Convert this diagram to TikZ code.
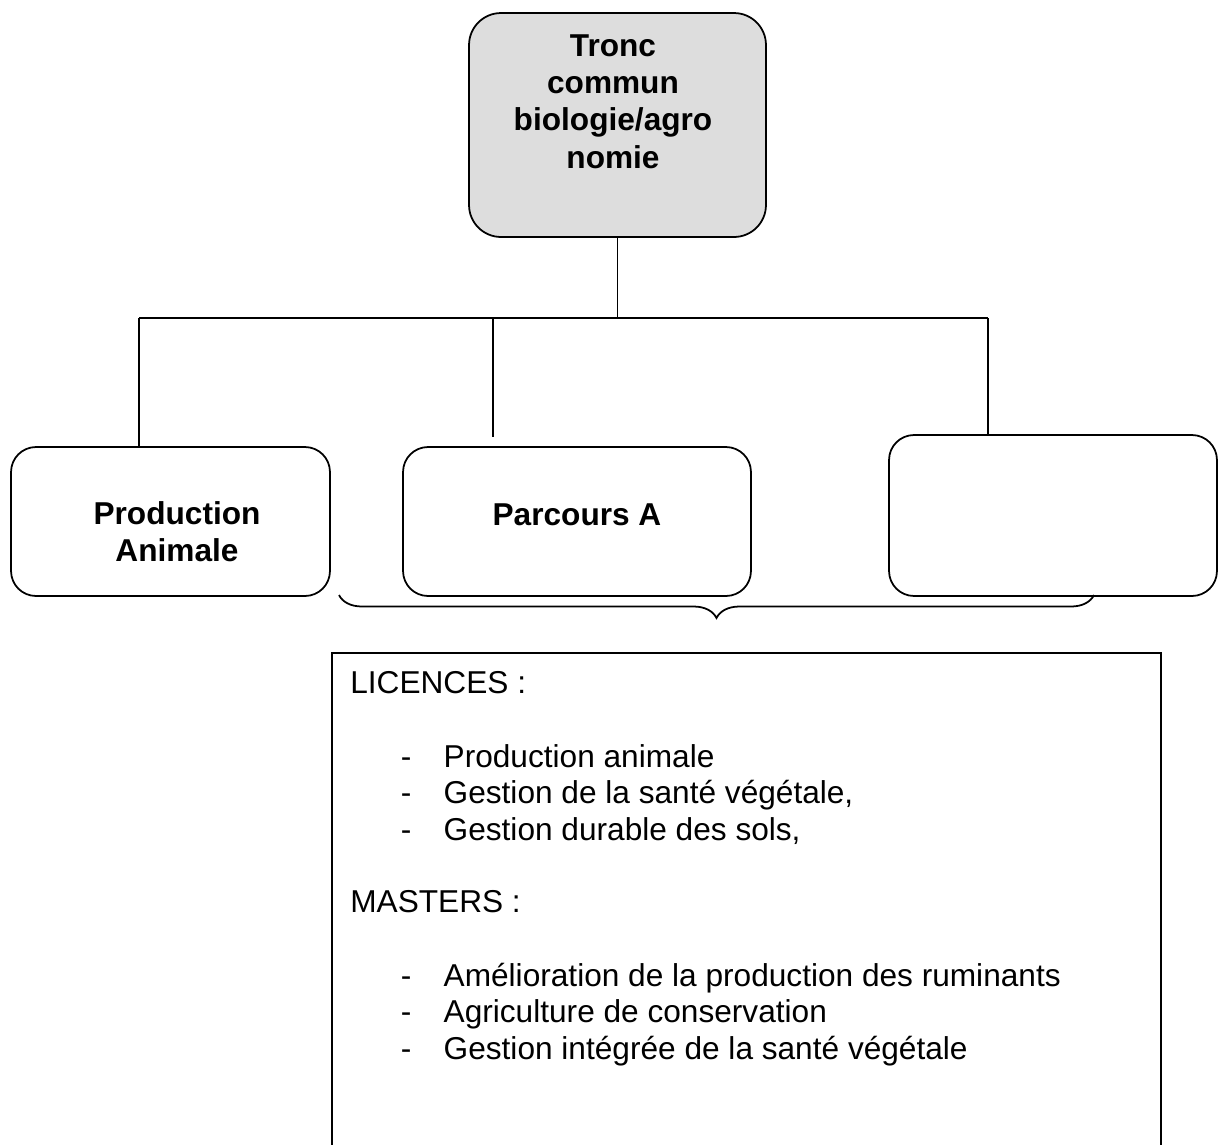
\documentclass[tikz,border=0pt]{standalone}
\usepackage{fontspec}
\setmainfont{Liberation Sans}
\usetikzlibrary{decorations.pathreplacing}

\newcommand{\dashitem}[1]{\makebox[24.4pt][l]{-}#1}

\tikzset{
	link/.style={line width=1pt},
	roundbox/.style={draw, line width=1pt, rounded corners=0.5cm, inner sep=0pt},
	boldtxt/.style={font=\fontsize{18}{20.75}\selectfont\bfseries, align=center, inner sep=0pt},
	listtxt/.style={font=\fontsize{18}{20.75}\selectfont, anchor=base west, inner sep=0pt}
}

\begin{document}
\begin{tikzpicture}[x=0.02cm, y=-0.02cm]
		\clip (0,0) rectangle (1218,1144);
		% boxes
		\node[roundbox, rounded corners=0.64cm, fill=gray!27, minimum width=5.94cm, minimum height=4.48cm] (tronc) at (617.5,125) {};
		\node[roundbox, minimum width=6.38cm, minimum height=2.98cm] (prodbox) at (170.5,521.5) {};
		\node[roundbox, minimum width=6.96cm, minimum height=2.98cm] (parcbox) at (577,521.5) {};
		\node[roundbox, minimum width=6.56cm, minimum height=3.22cm] (videbox) at (1053,515.5) {};
		\node[draw, line width=1pt, anchor=north west, minimum width=16.58cm, minimum height=11.4cm] (listbox) at (331,652) {};
		% box texts
		\node[boldtxt, font=\fontsize{18}{21.3}\selectfont\bfseries, anchor=north] (troncTxt) at (613,34) {Tronc\\commun\\biologie/agro\\nomie};
		\node[boldtxt, anchor=north] (prodTxt) at (177,501.5) {Production\\Animale};
		\node[boldtxt, anchor=base] (parcTxt) at (577,525) {Parcours A};
		% tree
		\coordinate (barL) at (139,318);
		\coordinate (barM) at (493,318);
		\coordinate (barR) at (988,318);
		\coordinate (midEnd) at (493,437);
		\draw[link] (tronc.south) -- (tronc.south |- barL);
		\draw[link] (barL) -- (barR);
		\draw[link] (barL) -- (barL |- prodbox.north);
		\draw[link] (barM) -- (midEnd);
		\draw[link] (barR) -- (barR |- videbox.north);
		% brace
		\coordinate (braceL) at (339,595);
		\coordinate (braceR) at (1094,595);
		\draw[link, decorate, decoration={brace, mirror, amplitude=0.46cm}] (braceL) -- (braceR);
		% list
		\node[listtxt] (licTxt) at (350,693) {LICENCES :};
		\node[listtxt] (lic1) at (400.5,767) {\dashitem{Production animale}};
		\node[listtxt] (lic2) at (400.5,803.5) {\dashitem{Gestion de la santé végétale,}};
		\node[listtxt] (lic3) at (400.5,840) {\dashitem{Gestion durable des sols,}};
		\node[listtxt] (mastTxt) at (350,912) {MASTERS :};
		\node[listtxt] (mast1) at (400.5,986) {\dashitem{Amélioration de la production des ruminants}};
		\node[listtxt] (mast2) at (400.5,1022.5) {\dashitem{Agriculture de conservation}};
		\node[listtxt] (mast3) at (400.5,1059) {\dashitem{Gestion intégrée de la santé végétale}};
	\end{tikzpicture}
\end{document}
